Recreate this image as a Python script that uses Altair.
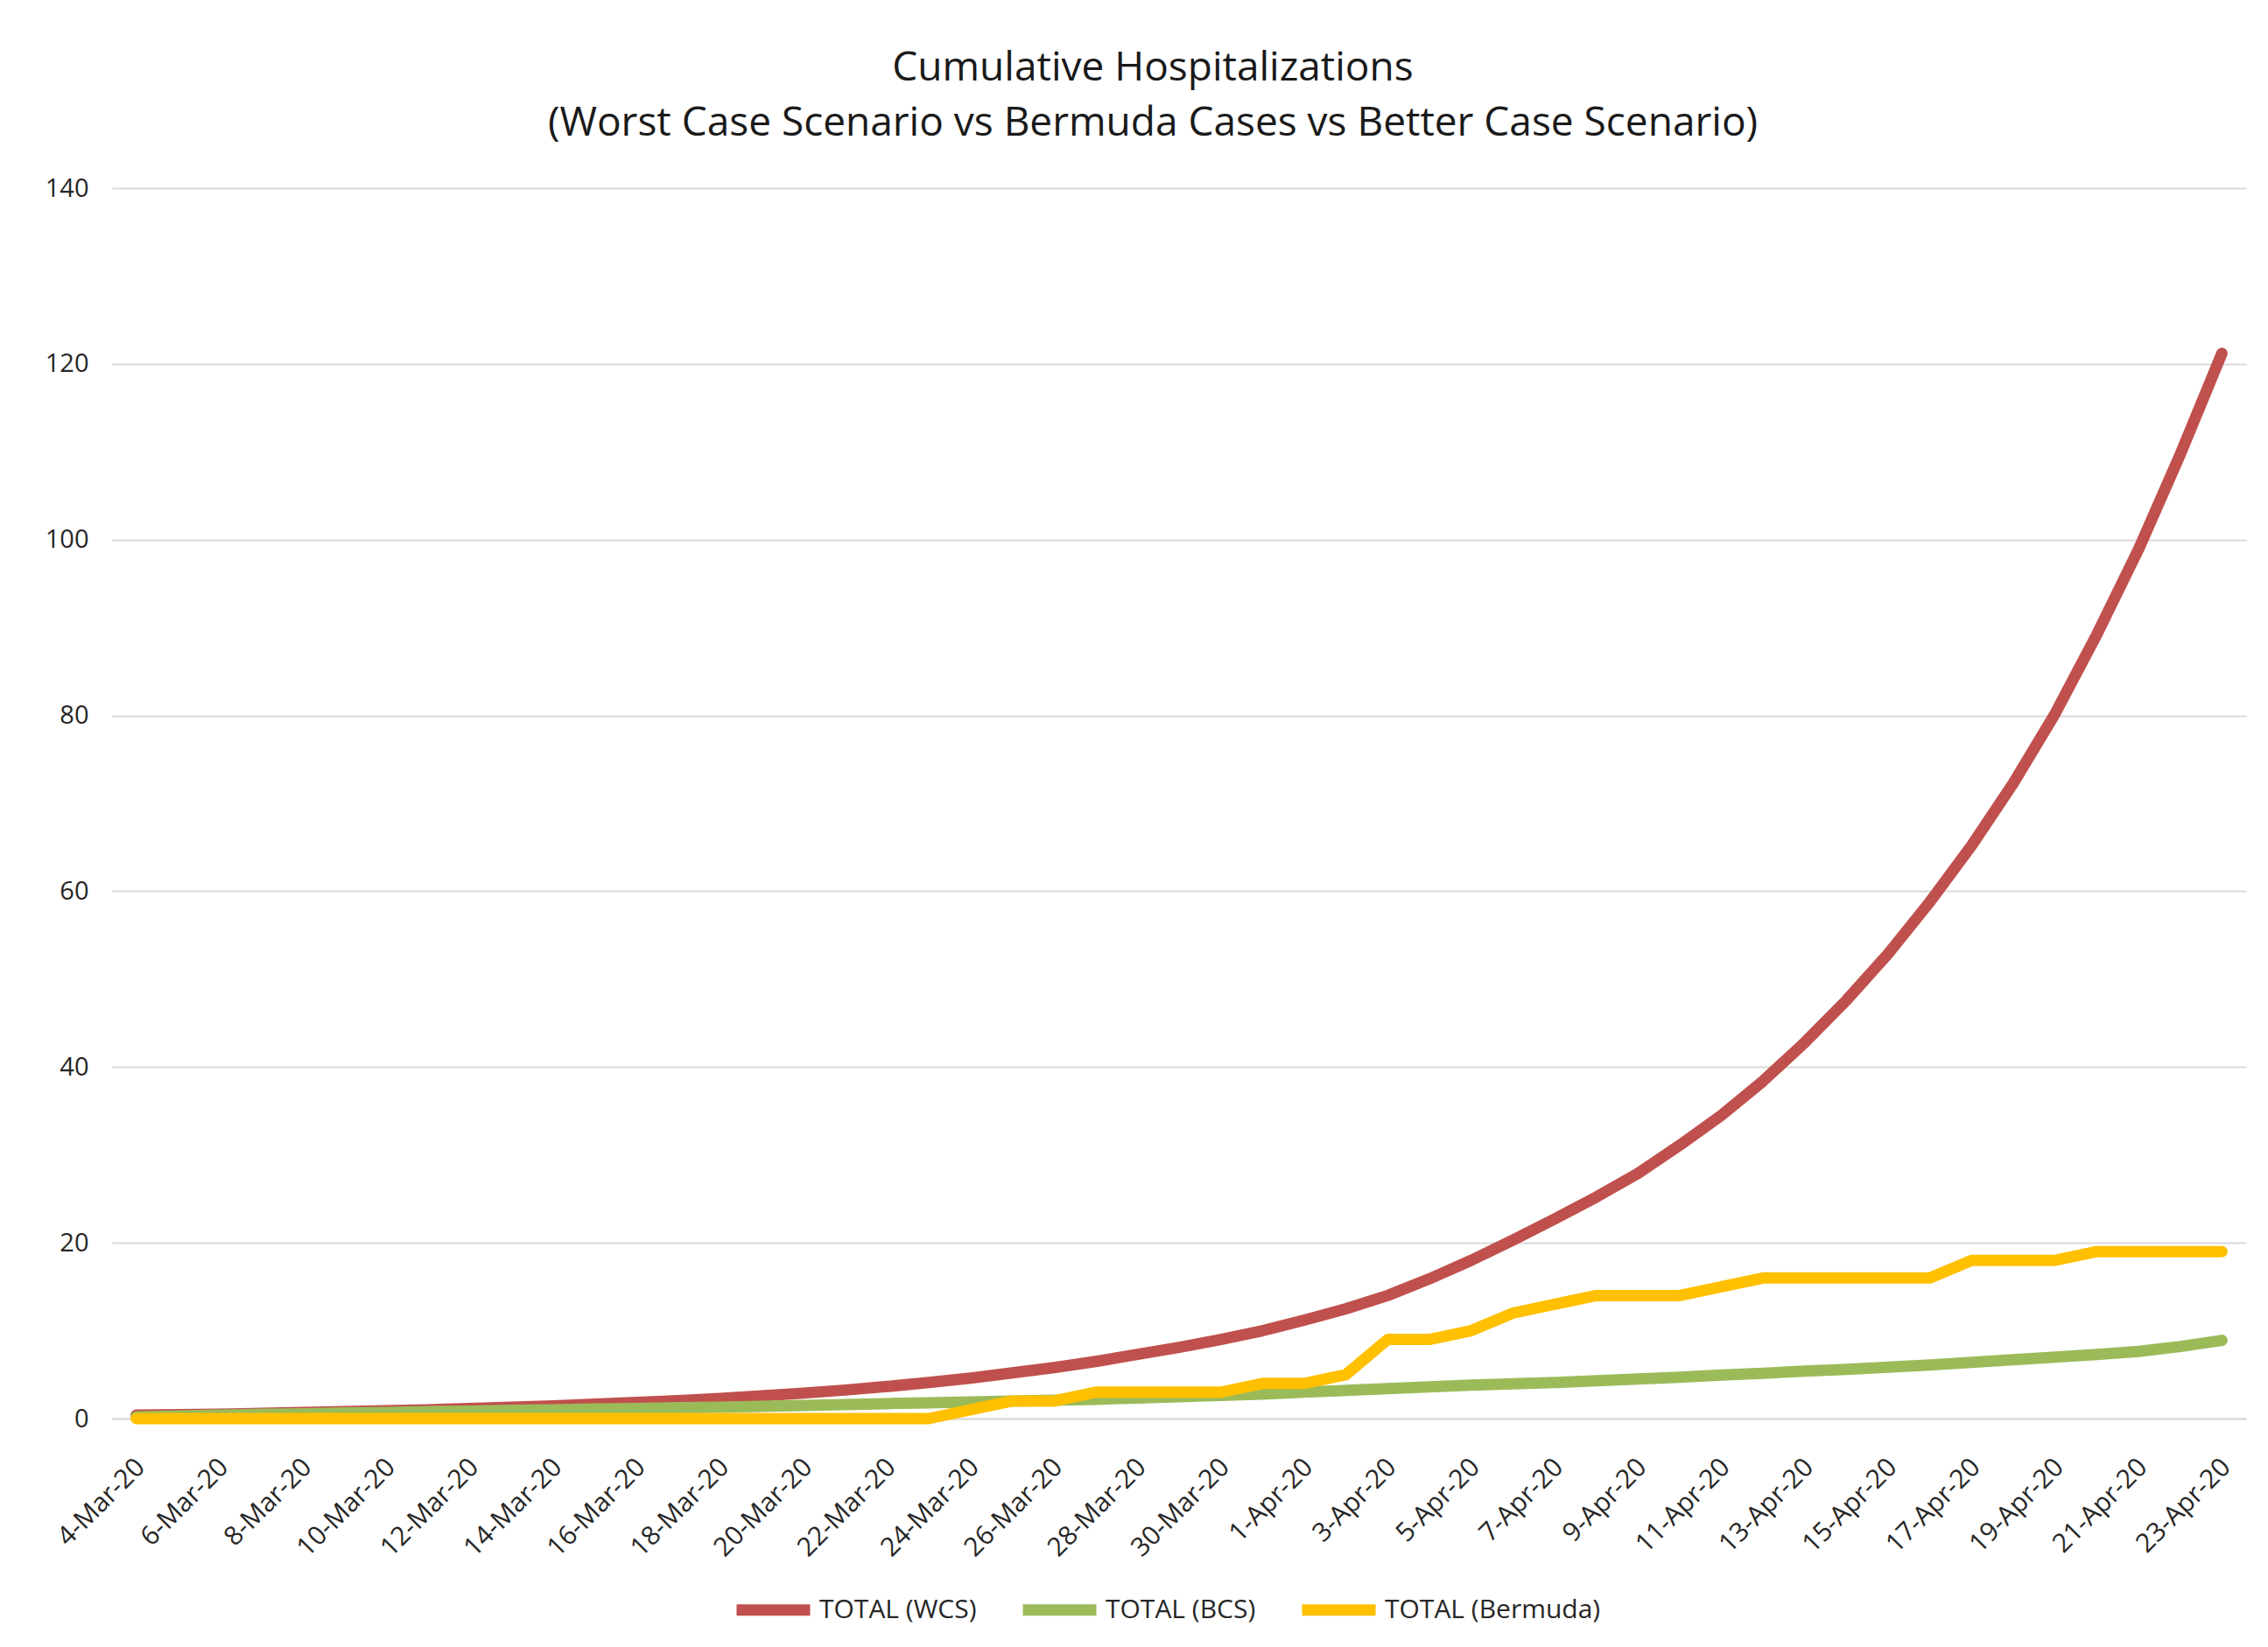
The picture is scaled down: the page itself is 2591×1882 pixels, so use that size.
import altair as alt
import pandas as pd

dates = [
    "4-Mar-20", "5-Mar-20", "6-Mar-20", "7-Mar-20", "8-Mar-20", "9-Mar-20",
    "10-Mar-20", "11-Mar-20", "12-Mar-20", "13-Mar-20", "14-Mar-20", "15-Mar-20",
    "16-Mar-20", "17-Mar-20", "18-Mar-20", "19-Mar-20", "20-Mar-20", "21-Mar-20",
    "22-Mar-20", "23-Mar-20", "24-Mar-20", "25-Mar-20", "26-Mar-20", "27-Mar-20",
    "28-Mar-20", "29-Mar-20", "30-Mar-20", "31-Mar-20", "1-Apr-20", "2-Apr-20",
    "3-Apr-20", "4-Apr-20", "5-Apr-20", "6-Apr-20", "7-Apr-20", "8-Apr-20",
    "9-Apr-20", "10-Apr-20", "11-Apr-20", "12-Apr-20", "13-Apr-20", "14-Apr-20",
    "15-Apr-20", "16-Apr-20", "17-Apr-20", "18-Apr-20", "19-Apr-20", "20-Apr-20",
    "21-Apr-20", "22-Apr-20", "23-Apr-20",
]

wcs = [
    0.4, 0.45, 0.5, 0.6, 0.7, 0.8, 0.9, 1.0, 1.15, 1.3, 1.45, 1.65, 1.85, 2.05,
    2.3, 2.6, 2.9, 3.25, 3.65, 4.1, 4.6, 5.2, 5.8, 6.5, 7.3, 8.1, 9.0, 10.0,
    11.2, 12.5, 14.0, 15.9, 18.0, 20.3, 22.7, 25.2, 27.9, 31.1, 34.5, 38.4,
    42.8, 47.6, 52.9, 58.8, 65.2, 72.3, 80.2, 89.2, 98.9, 109.7, 121.2,
]

bcs = [
    0.2, 0.3, 0.4, 0.5, 0.55, 0.65, 0.7, 0.8, 0.85, 0.95, 1.0, 1.1, 1.15, 1.25,
    1.3, 1.4, 1.5, 1.6, 1.7, 1.8, 1.9, 2.0, 2.1, 2.2, 2.35, 2.5, 2.65, 2.8,
    3.0, 3.2, 3.4, 3.6, 3.8, 3.95, 4.1, 4.3, 4.5, 4.7, 4.95, 5.15, 5.4, 5.6,
    5.85, 6.1, 6.4, 6.7, 7.0, 7.3, 7.65, 8.2, 8.9,
]

bermuda = [
    0, 0, 0, 0, 0, 0, 0, 0, 0, 0, 0, 0, 0, 0, 0, 0, 0, 0, 0, 0, 1, 2, 2, 3,
    3, 3, 3, 4, 4, 5, 9, 9, 10, 12, 13, 14, 14, 14, 15, 16, 16, 16, 16, 16,
    18, 18, 18, 19, 19, 19, 19,
]

series_names = ["TOTAL (WCS)", "TOTAL (BCS)", "TOTAL (Bermuda)"]
series_colors = ["#C0504D", "#9BBB59", "#FFC000"]
y_ticks = [0, 20, 40, 60, 80, 100, 120, 140]
x_label_dates = dates[::2]

rows = []
for name, vals in zip(series_names, [wcs, bcs, bermuda]):
    for d, v in zip(dates, vals):
        rows.append({"date": d, "value": v, "series": name})
df = pd.DataFrame(rows)

FONT = "Open Sans"
LABEL_COLOR = "#262626"

x_enc = alt.X(
    "date:O",
    sort=dates,
    scale=alt.Scale(type="point", padding=0.58),
    axis=alt.Axis(
        values=x_label_dates,
        labelAngle=-45,
        labelFontSize=30,
        labelColor=LABEL_COLOR,
        labelFont=FONT,
        labelPadding=40,
        labelOffset=-6,
        ticks=False,
        domain=True,
        domainColor="#D9D9D9",
        domainWidth=2,
        grid=False,
        title=None,
        labelOverlap=False,
    ),
)
y_enc = alt.Y(
    "value:Q",
    scale=alt.Scale(domain=[0, 140], nice=False),
    axis=alt.Axis(
        values=y_ticks,
        labelFontSize=29,
        labelColor=LABEL_COLOR,
        labelFont=FONT,
        labelPadding=27,
        ticks=False,
        domain=False,
        grid=True,
        gridColor="#D9D9D9",
        gridWidth=2,
        title=None,
    ),
)
color_enc = alt.Color(
    "series:N",
    scale=alt.Scale(domain=series_names, range=series_colors),
    legend=alt.Legend(
        title=None,
        orient="none",
        direction="horizontal",
        legendX=707,
        legendY=1576,
        symbolType="stroke",
        symbolSize=7056,
        symbolStrokeWidth=13,
        labelFontSize=30,
        labelFont=FONT,
        labelColor=LABEL_COLOR,
        labelOffset=4,
        labelLimit=0,
        columnPadding=26,
    ),
)

base = alt.Chart(df)
layers = []
for name in series_names:
    layers.append(
        base.transform_filter(alt.datum.series == name)
        .mark_line(strokeWidth=13, strokeCap="round", strokeJoin="round")
        .encode(x=x_enc, y=y_enc, color=color_enc)
    )

chart = (
    alt.layer(*layers)
    .properties(
        width=2438,
        height=1406,
        title=alt.TitleParams(
            text=[
                "Cumulative Hospitalizations",
                "(Worst Case Scenario vs Bermuda Cases vs Better Case Scenario)",
            ],
            font=FONT,
            fontSize=46,
            fontWeight="normal",
            color="#1a1a1a",
            anchor="middle",
            lineHeight=63,
            offset=36,
            dx=-30,
        ),
        autosize=alt.AutoSizeParams(type="none"),
        padding={"left": 128, "top": 215, "right": 25, "bottom": 261},
        background="white",
    )
    .configure_view(stroke=None)
)

chart.save("out.html", embed_options={"renderer": "svg", "actions": False})
